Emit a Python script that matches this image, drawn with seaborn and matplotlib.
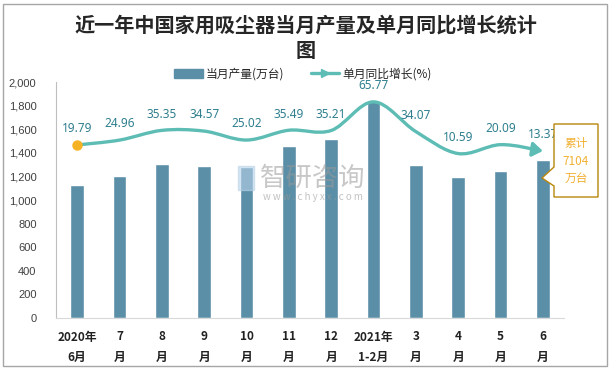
import numpy as np
import matplotlib
matplotlib.use("Agg")
import matplotlib.pyplot as plt
from matplotlib.path import Path
from matplotlib.patches import FancyArrowPatch, Polygon, Rectangle
from matplotlib.lines import Line2D
import seaborn as sns

sns.set_style("white")
plt.rcParams["font.family"] = ["Noto Sans CJK SC", "DejaVu Sans"]

# ---------------------------------------------------------------------------
# data
# ---------------------------------------------------------------------------
months = ["2020年\n6月", "7\n月", "8\n月", "9\n月", "10\n月", "11\n月", "12\n月",
          "2021年\n1-2月", "3\n月", "4\n月", "5\n月", "6\n月"]
output = [1127, 1203, 1305, 1288, 1280, 1458, 1517, 1839, 1297, 1195, 1246, 1339]
growth = [19.79, 24.96, 35.35, 34.57, 25.02, 35.49, 35.21, 65.77, 34.07, 10.59, 20.09, 13.37]
title = "近一年中国家用吸尘器当月产量及单月同比增长统计\n图"
bar_name = "当月产量(万台)"
line_name = "单月同比增长(%)"
total_note = "累计\n7104\n万台"

BAR = "#5b8fa7"
LINE = "#5dbdb5"
LABEL = "#2f7f8e"
W, H = 611, 369

fig = plt.figure(figsize=(W / 100, H / 100), dpi=100)
ax = fig.add_axes([56 / W, 1 - 318 / H, 508 / W, 236 / H])

sns.barplot(x=months, y=output, color=BAR, width=0.33, saturation=1, ax=ax)
ax.set_xlim(-0.5, len(months) - 0.5)
ax.set_ylim(0, 2000)
ax.set_yticks(range(0, 2001, 200))
ax.set_yticklabels([f"{v:,}" for v in range(0, 2001, 200)], fontsize=8, color="#404040",
                   family=["Liberation Sans", "DejaVu Sans"])
ax.tick_params(axis="y", length=0, pad=14)
ax.tick_params(axis="x", which="major", length=0, pad=9)
ax.set_xticks(np.arange(-0.5, len(months), 1), minor=True)
ax.tick_params(axis="x", which="minor", length=5, color="#d9d9d9", width=1)
for lab in ax.get_xticklabels():
    lab.set_fontsize(8.5)
    lab.set_fontweight("bold")
    lab.set_linespacing(1.7)
    lab.set_color("#222222")
for s in ["top", "right"]:
    ax.spines[s].set_visible(False)
ax.spines["left"].set_color("#bfbfbf")
ax.spines["bottom"].set_color("#d9d9d9")
ax.set_xlabel("")
ax.set_ylabel("")

# ---------------------------------------------------------------------------
# growth line on hidden secondary axis (smoothed bezier, arrow at end)
# ---------------------------------------------------------------------------
ax2 = ax.twinx()
ax2.set_ylim(-165, 87)
ax2.axis("off")

xs = np.arange(len(growth), dtype=float)
ys = np.array(growth, dtype=float)
n = len(xs)
verts = [(xs[0], ys[0])]
codes = [Path.MOVETO]
for i in range(n - 1):
    a, b = max(i - 1, 0), min(i + 2, n - 1)
    c1 = (xs[i] + (xs[i + 1] - xs[a]) / 6, ys[i] + (ys[i + 1] - ys[a]) / 6)
    c2 = (xs[i + 1] - (xs[b] - xs[i]) / 6, ys[i + 1] - (ys[b] - ys[i]) / 6)
    verts += [c1, c2, (xs[i + 1], ys[i + 1])]
    codes += [Path.CURVE4] * 3

curve = FancyArrowPatch(path=Path(verts, codes), arrowstyle="-|>,head_length=0.5,head_width=0.35",
                        mutation_scale=12, color=LINE, lw=2.4, transform=ax2.transData, zorder=3)
ax2.add_patch(curve)
ax2.plot(xs[0], ys[0], "o", color="#f5b324", markersize=6.5, zorder=4)

for i, v in enumerate(growth):
    ax2.annotate(f"{v:.2f}", (i, v), xytext=(0, 7), textcoords="offset points",
                 ha="center", va="bottom", fontsize=8.5, color=LABEL,
                 family=["Noto Sans", "DejaVu Sans"], zorder=5)

# ---------------------------------------------------------------------------
# title, legend, annotations
# ---------------------------------------------------------------------------
fig.text(0.5, 1 - 38 / H, title, ha="center", va="center", fontsize=14.5,
         fontweight="bold", linespacing=1.25, color="#262626")

handles = [Rectangle((0, 0), 1, 1, color=BAR),
           Line2D([], [], color=LINE, lw=2.4, marker=">", markersize=6)]
fig.legend(handles, [bar_name, line_name], loc="center", bbox_to_anchor=(303 / W, 1 - 74 / H),
           ncol=2, frameon=False, fontsize=8.5, handlelength=2.4, columnspacing=2.2,
           handletextpad=0.3, numpoints=1)

# watermark
fig.patches.append(Rectangle((238 / W, 1 - 190 / H), 16 / W, 24 / H, transform=fig.transFigure,
                             color="#b9d3ea", alpha=0.6, zorder=0))
fig.text(313 / W, 1 - 178 / H, "智研咨询", ha="center", va="center", fontsize=19,
         color="#9a9a9a", alpha=0.55)
fig.text(313 / W, 1 - 197 / H, "w w w . c h y x x . c o m", ha="center", va="center",
         fontsize=7, color="#9a9a9a", alpha=0.6)

# callout box
box = [(554, 124), (598, 124), (598, 197), (554, 197), (554, 186), (542, 178), (554, 167)]
fig.patches.append(Polygon([(x / W, 1 - y / H) for x, y in box], closed=True,
                           transform=fig.transFigure, fc="white", ec="#b8860b", lw=1, zorder=5))
fig.text(576 / W, 1 - 161 / H, total_note, ha="center", va="center", fontsize=8.5,
         color="#f2b134", linespacing=1.45, zorder=6)

# outer border
fig.patches.append(Rectangle((3 / W, 3 / H), (W - 7) / W, (H - 7) / H, transform=fig.transFigure,
                             fill=False, ec="#a6a6a6", lw=1))

fig.savefig("out.png", dpi=100)
